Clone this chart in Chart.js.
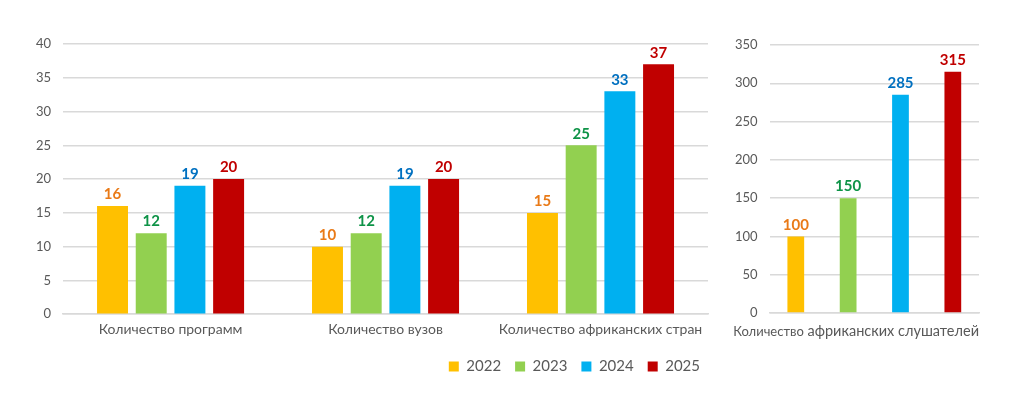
<!DOCTYPE html>
<html>
<head>
<meta charset="utf-8">
<script src="https://cdn.jsdelivr.net/npm/chart.js@4"></script>
<style>
  body { margin: 0; background: #fff; }
  .wrap { position: relative; width: 1024px; height: 395px; }
  #left-box { position: absolute; left: 0; top: 0; width: 723px; height: 395px; }
  #right-box { position: absolute; left: 723px; top: 0; width: 301px; height: 395px; }
</style>
</head>
<body>
<div class="wrap">
  <div id="left-box"><canvas id="left-chart"></canvas></div>
  <div id="right-box"><canvas id="right-chart"></canvas></div>
</div>
<script>
const years = ['2022', '2023', '2024', '2025'];
const leftCategories = ['Количество программ', 'Количество вузов', 'Количество африканских стран'];
const values2022 = [16, 10, 15];
const values2023 = [12, 12, 25];
const values2024 = [19, 19, 33];
const values2025 = [20, 20, 37];

// the right label mixes two font sizes, so it is kept in two parts
const rightCategories = ['Количество африканских слушателей'];
const rightLabelParts = ['Количество', ' африканских слушателей'];
const listeners = [100, 150, 285, 315];

const barColors = ['#FFC000', '#92D050', '#00B0F0', '#C00000'];
const labelColors = ['#E97A17', '#0E9347', '#0070C0', '#C00000'];
const fontFamily = 'Lato, "Open Sans", sans-serif';
const gridColor = '#D9D9D9';
const tickColor = '#595959';

Chart.defaults.font.family = fontFamily;
Chart.defaults.color = tickColor;

// draws the value over each bar
const valueLabels = {
  id: 'valueLabels',
  afterDatasetsDraw(chart) {
    const ctx = chart.ctx;
    ctx.save();
    ctx.font = 'bold 15px ' + fontFamily;
    ctx.textAlign = 'center';
    ctx.textBaseline = 'bottom';
    chart.data.datasets.forEach((ds, i) => {
      const meta = chart.getDatasetMeta(i);
      ctx.fillStyle = labelColors[i];
      meta.data.forEach((bar, j) => {
        ctx.fillText(ds.data[j], bar.x, bar.y - 4);
      });
    });
    ctx.restore();
  }
};

// nudges the legend a little to the right
const legendShift = {
  id: 'legendShift',
  afterLayout(chart) {
    chart.legend.left += 6;
    chart.legend.right += 6;
  }
};

// category label of the right chart, ending at the right edge of the plot
const rightAxisLabel = {
  id: 'rightAxisLabel',
  afterDraw(chart) {
    const ctx = chart.ctx;
    const area = chart.chartArea;
    const y = area.bottom + 23;
    const bigFont = '14.5px ' + fontFamily;
    const smallFont = '13px ' + fontFamily;
    ctx.save();
    ctx.fillStyle = tickColor;
    ctx.textBaseline = 'alphabetic';
    ctx.font = bigFont;
    const w2 = ctx.measureText(rightLabelParts[1]).width;
    ctx.font = smallFont;
    const w1 = ctx.measureText(rightLabelParts[0]).width;
    const x0 = area.right - w1 - w2;
    ctx.fillText(rightLabelParts[0], x0, y);
    ctx.font = bigFont;
    ctx.fillText(rightLabelParts[1], x0 + w1, y);
    ctx.restore();
  }
};

function yScale(max, step) {
  return {
    min: 0,
    max: max,
    ticks: { stepSize: step, padding: 12, color: tickColor, font: { size: 13 } },
    grid: { color: gridColor, lineWidth: 1.5, drawTicks: false },
    border: { display: false }
  };
}

function xScale(showTicks) {
  return {
    grid: { display: false, drawTicks: false },
    border: { color: gridColor, width: 1.5 },
    ticks: { display: showTicks, color: tickColor, font: { size: 14 }, padding: 7 }
  };
}

const leftChart = new Chart(document.getElementById('left-chart'), {
  type: 'bar',
  data: {
    labels: leftCategories,
    datasets: [values2022, values2023, values2024, values2025].map((vals, i) => ({
      label: years[i],
      data: vals,
      backgroundColor: barColors[i],
      categoryPercentage: 0.72,
      barPercentage: 0.8
    }))
  },
  options: {
    responsive: true,
    maintainAspectRatio: false,
    animation: false,
    layout: { padding: { top: 44, right: 15, left: 24, bottom: 11 } },
    plugins: {
      legend: {
        position: 'bottom',
        align: 'end',
        labels: { boxWidth: 10, boxHeight: 10, padding: 14, color: tickColor, font: { size: 15 } }
      },
      tooltip: { enabled: false }
    },
    scales: { x: xScale(true), y: yScale(40, 5) }
  },
  plugins: [valueLabels, legendShift]
});

const rightChart = new Chart(document.getElementById('right-chart'), {
  type: 'bar',
  data: {
    labels: rightCategories,
    datasets: listeners.map((v, i) => ({
      label: years[i],
      data: [v],
      backgroundColor: barColors[i],
      categoryPercentage: 1,
      barPercentage: 0.32
    }))
  },
  options: {
    responsive: true,
    maintainAspectRatio: false,
    animation: false,
    layout: { padding: { top: 45, right: 45, left: 0, bottom: 82 } },
    plugins: { legend: { display: false }, tooltip: { enabled: false } },
    scales: { x: xScale(false), y: yScale(350, 50) }
  },
  plugins: [valueLabels, rightAxisLabel]
});
</script>
</body>
</html>
